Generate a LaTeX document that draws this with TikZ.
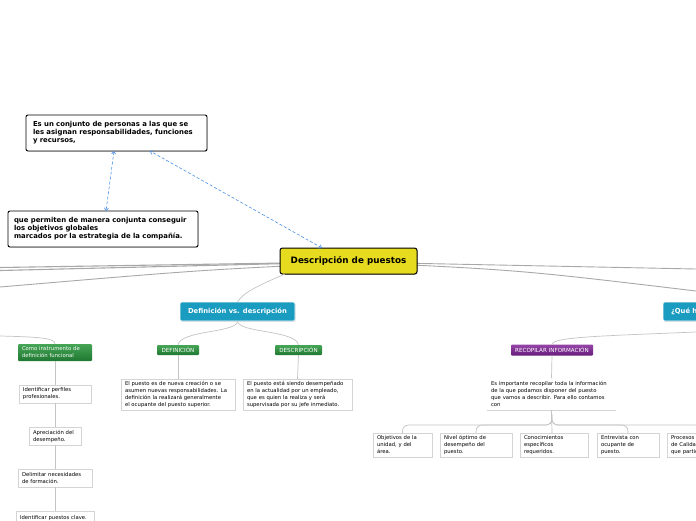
\documentclass[tikz,border=0pt]{standalone}
\usepackage{fontspec}
\setmainfont{DejaVu Sans}
\usetikzlibrary{shadows,arrows.meta,calc}
\definecolor{myyellow}{HTML}{E6DB1E}
\definecolor{myteal}{HTML}{1A9BC0}
\definecolor{mygreenA}{HTML}{45A555}
\definecolor{mygreenB}{HTML}{207832}
\definecolor{mypurpleA}{HTML}{9544A8}
\definecolor{mypurpleB}{HTML}{661C7A}
\definecolor{linegray}{HTML}{C4C4C4}
\definecolor{maingray}{HTML}{A8A8A8}
\definecolor{dashblue}{HTML}{4A90E2}
\begin{document}
\begin{tikzpicture}[x=1pt,y=-1pt,
  every node/.style={inner sep=0pt, outer sep=0pt},
  topbox/.style={draw=black, line width=0.9pt, rounded corners=2pt, fill=white,
    font=\fontsize{6.9}{8}\selectfont\bfseries, align=left,
    drop shadow={shadow xshift=0.6pt, shadow yshift=-0.8pt, opacity=0.3}},
  mainbox/.style={draw=black, line width=1pt, rounded corners=2.5pt, fill=myyellow,
    font=\fontsize{8.8}{10}\selectfont\bfseries,
    drop shadow={shadow xshift=0.6pt, shadow yshift=-0.8pt, opacity=0.3}},
  tealbox/.style={fill=myteal, draw=white, line width=0.6pt, rounded corners=1.5pt, text=white,
    font=\fontsize{6.8}{8}\selectfont\bfseries,
    drop shadow={shadow xshift=0.6pt, shadow yshift=-0.8pt, opacity=0.3}},
  greenlbl/.style={top color=mygreenA, bottom color=mygreenB, rounded corners=1pt, text=white,
    font=\fontsize{5.6}{7}\selectfont},
  greenbig/.style={top color=mygreenA, bottom color=mygreenB, rounded corners=1pt, text=white,
    font=\fontsize{5.3}{7}\selectfont, align=left},
  purplelbl/.style={top color=mypurpleA, bottom color=mypurpleB, rounded corners=1pt, text=white,
    font=\fontsize{5.6}{7}\selectfont},
  wbox/.style={draw=black!17, line width=0.6pt, fill=white,
    font=\fontsize{5.3}{7}\selectfont, align=left},
  plaintext/.style={font=\fontsize{5.3}{7}\selectfont, align=left},
  conn/.style={draw=linegray, line width=0.7pt},
  mainline/.style={draw=maingray, line width=1.1pt},
  dasharrow/.style={draw=dashblue, line width=0.6pt, dash pattern=on 3pt off 2pt,
    {Straight Barb[length=2.5pt,width=4pt]}-{Straight Barb[length=2.5pt,width=4pt]}}
]
\useasboundingbox (0,0) rectangle (696,520);
\fill[white] (0,0) rectangle (696,520);
\clip (0,0) rectangle (696,520);

% free ends
\coordinate (L1) at (0,267.5);
\coordinate (L2) at (0,270.5);
\coordinate (L3) at (0,287);
\coordinate (R1) at (696,269);
\coordinate (R2) at (696,291);
\coordinate (CL) at (0,336);
\coordinate (CR) at (696,332);

% main lines (behind)
\draw[mainline] (348.5,262) -- (L1);
\draw[mainline] (348.5,262) -- (L2);
\draw[mainline, line width=0.9pt] (348.5,263) .. controls (200,270) .. (L3);
\draw[mainline, line width=0.9pt] (348.5,262) -- (R1);
\draw[mainline, line width=0.9pt] (348.5,262) .. controls (520,270) .. (R2);

% nodes
\node[mainbox, minimum width=137pt, minimum height=26pt] (main) at (348.5,261) {Descripción de puestos};

\node[topbox, minimum width=181pt, minimum height=36pt, text width=167pt] (t1) at (116.5,133)
  {Es un conjunto de personas a las que se\\les asignan responsabilidades, funciones\\y recursos,};
\node[topbox, minimum width=190pt, minimum height=36pt, text width=178pt] (t2) at (103,229)
  {que permiten de manera conjunta conseguir\\los objetivos globales\\marcados por la estrategia de la compañía.};

\node[tealbox, minimum width=115pt, minimum height=19pt] (def) at (237.5,311.5) {Definición vs. descripción};
\node[tealbox, minimum width=110pt, minimum height=19pt, anchor=west, text width=94pt, align=left] (que) at (663,311.5) {¿Qué hay que describir?};

\node[greenlbl, minimum width=42pt, minimum height=10pt] (defl) at (178,350) {DEFINICIÓN};
\node[greenlbl, minimum width=47pt, minimum height=10pt] (descl) at (298.5,350) {DESCRIPCIÓN};

\node[wbox, minimum width=114pt, minimum height=31pt, text width=106pt] (defbox) at (178,394.5)
  {El puesto es de nueva creación o se\\asumen nuevas responsabilidades. La\\definición la realizará generalmente\\el ocupante del puesto superior.};
\node[wbox, minimum width=109pt, minimum height=31pt, text width=101pt] (descbox) at (297.5,394.5)
  {El puesto está siendo desempeñado\\en la actualidad por un empleado,\\que es quien la realiza y será\\supervisada por su jefe inmediato.};

% left column
\node[greenbig, minimum width=74pt, minimum height=17pt, text width=66pt] (como) at (55,352.5)
  {Como instrumento de\\definición funcional};
\node[wbox, minimum width=72pt, minimum height=18pt, text width=64pt] (perf) at (55,394)
  {Identificar perfiles\\profesionales.};
\node[wbox, minimum width=52pt, minimum height=18pt, text width=44pt] (aprec) at (55,436)
  {Apreciación del\\desempeño.};
\node[wbox, minimum width=74pt, minimum height=18pt, text width=66pt] (delim) at (55,478)
  {Delimitar necesidades\\de formación.};
\node[wbox, minimum width=78pt, minimum height=14pt, text width=70pt] (clave) at (55,518)
  {Identificar puestos clave.};

% right part
\node[purplelbl, minimum width=82pt, minimum height=11pt] (recl) at (552,350) {RECOPILAR INFORMACIÓN};
\node[plaintext, minimum width=129pt, minimum height=32pt, text width=121pt] (rtext) at (551.5,394)
  {Es importante recopilar toda la información\\de la que podamos disponer del puesto\\que vamos a describir. Para ello contamos\\con};
\node[wbox, minimum width=59pt, minimum height=24pt, text width=51pt] (b1) at (402.5,445)
  {Objetivos de la\\unidad, y del\\área.};
\node[wbox, minimum width=72pt, minimum height=24pt, text width=64pt] (b2) at (476,445)
  {Nivel óptimo de\\desempeño del\\puesto.};
\node[wbox, minimum width=68pt, minimum height=24pt, text width=60pt] (b3) at (554,445)
  {Conocimientos\\específicos\\requeridos.};
\node[wbox, minimum width=62pt, minimum height=24pt, text width=54pt] (b4) at (628,445)
  {Entrevista con\\ocupante de\\puesto.};
\node[wbox, minimum width=68pt, minimum height=24pt, text width=60pt] (b5) at (701,445)
  {Procesos\\de Calidad en\\que participa.};

% connectors
\draw[conn] ($(main.south west)+(5,0)$) .. controls (262,284) and (243,292) .. (def.north);
\draw[conn] (def.south) .. controls (238,333) and (180,330) .. (defl.north);
\draw[conn] (def.south) .. controls (238,333) and (296,330) .. (descl.north);
\draw[conn] (defl.south) -- (defbox.north);
\draw[conn] (descl.south) -- (descbox.north);

\draw[conn] (CL) .. controls (40,337) and (55,338) .. (como.north);
\draw[conn] (como.south) -- (perf.north);
\draw[conn] (perf.south) -- (aprec.north);
\draw[conn] (aprec.south) -- (delim.north);
\draw[conn] (delim.south) -- (clave.north);

\draw[conn] (CR) .. controls (600,336) and (552,337) .. (recl.north);
\draw[conn] (recl.south) -- (rtext.north);
\draw[draw=black!17, line width=0.6pt] (rtext.south west) -- (rtext.south east);
\draw[conn, rounded corners=6pt] (rtext.south) -- (552,425) -- (402.5,425) -- (b1.north);
\draw[conn, rounded corners=6pt] (rtext.south) -- (552,425) -- (476,425) -- (b2.north);
\draw[conn] (rtext.south) -- (552,433);
\draw[conn, rounded corners=6pt] (rtext.south) -- (552,425) -- (628,425) -- (b4.north);
\draw[conn, rounded corners=6pt] (rtext.south) -- (552,425) -- (701,425) -- (b5.north);

\draw[dasharrow] ($(main.north west)+(42,0)$) -- ($(t1.south)+(33.5,0)$);
\draw[dasharrow] ($(t1.south)+(-2.5,0)$) -- ($(t2.north)+(3,0)$);
\end{tikzpicture}
\end{document}
